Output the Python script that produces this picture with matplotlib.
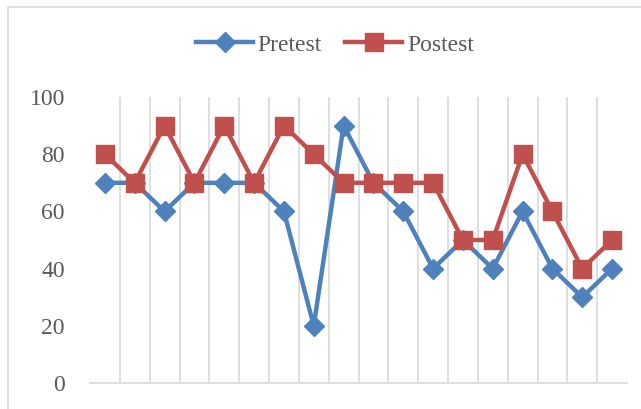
import matplotlib
matplotlib.use("Agg")
import matplotlib.pyplot as plt
from matplotlib.patches import Rectangle

# data
pretest = [70, 70, 60, 70, 70, 70, 60, 20, 90, 70, 60, 40, 50, 40, 60, 40, 30, 40]
postest = [80, 70, 90, 70, 90, 70, 90, 80, 70, 70, 70, 70, 50, 50, 80, 60, 40, 50]
y_ticks = [0, 20, 40, 60, 80, 100]

blue = "#4F81BD"
red = "#C0504D"
plt.rcParams["font.family"] = ["Liberation Serif", "DejaVu Serif"]

fig = plt.figure(figsize=(6.41, 4.09), dpi=100)

# outer chart frame (cropped on right and bottom)
fig.patches.append(Rectangle((8 / 641, -0.1), 1.2, 1 - 7 / 409 + 0.1,
                             transform=fig.transFigure, fill=False,
                             edgecolor="#D9D9D9", linewidth=1.2))

ax = fig.add_axes([90 / 641, 1 - 383 / 409, (627 - 90) / 641, (383 - 97) / 409])
n = len(pretest)
x = list(range(n))

ax.plot(x, pretest, color=blue, linewidth=3.2, marker="D", markersize=10, label="Pretest")
ax.plot(x, postest, color=red, linewidth=3.2, marker="s", markersize=13, label="Postest")

ax.set_xlim(-0.5, n - 0.5)
ax.set_ylim(0, 100)
ax.set_yticks(y_ticks)
ax.set_xticks([])
for b in range(1, n):
    ax.axvline(b - 0.5, color="#D9D9D9", linewidth=1.2, zorder=0)

for s in ["top", "right", "left"]:
    ax.spines[s].set_visible(False)
ax.spines["bottom"].set_color("#D9D9D9")
ax.spines["bottom"].set_linewidth(1.2)
ax.spines["bottom"].set_zorder(0)
ax.tick_params(axis="y", length=0, labelsize=17, labelcolor="#595959", pad=18)

fig.legend(loc="center", bbox_to_anchor=(335 / 641, 1 - 45 / 409), ncol=2,
           frameon=False, fontsize=17, labelcolor="#595959",
           handlelength=2.4, columnspacing=1.0, handletextpad=0.2)

fig.savefig("out.png", dpi=100)
